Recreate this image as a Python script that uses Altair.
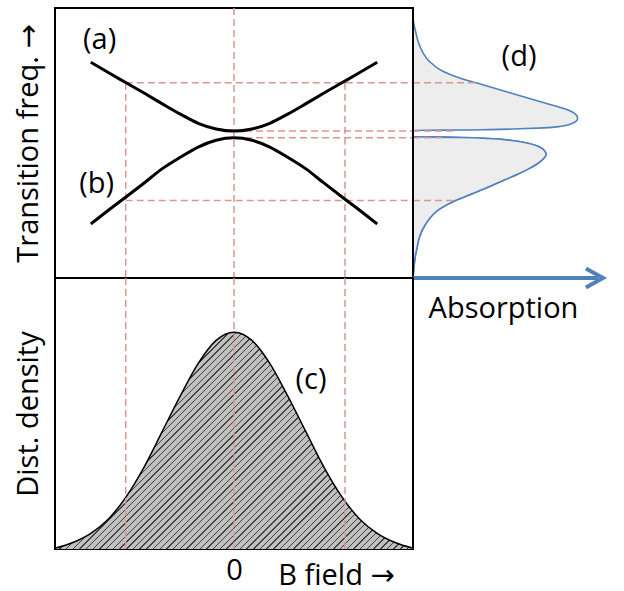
import altair as alt
import pandas as pd

# ---------------- data ----------------
# top panel: B field (-1..1) vs transition frequency (0..1)
curve_B = [-0.8, -0.7, -0.6, -0.5, -0.4, -0.3, -0.2, -0.1, 0.0,
           0.1, 0.2, 0.3, 0.4, 0.5, 0.6, 0.7, 0.8]
curve_a_f = [0.799, 0.760, 0.722, 0.684, 0.645, 0.607, 0.573, 0.552, 0.544,
             0.552, 0.573, 0.607, 0.645, 0.684, 0.722, 0.760, 0.799]
curve_b_f = [0.200, 0.252, 0.302, 0.353, 0.405, 0.447, 0.485, 0.510, 0.519,
             0.510, 0.485, 0.447, 0.405, 0.353, 0.302, 0.252, 0.200]

# guide positions (B of the marked fields, f of the marked frequencies)
guide_B = [-0.605, 0.0, 0.62]
guide_B_ftop = [0.723, 1.0, 0.723]
guide_f = [0.723, 0.544, 0.5196, 0.287]
guide_f_Bstart = [-0.605, 0.0, 0.0, -0.605]
guide_f_aend = [0.332, 0.216, 0.172, 0.216]

# bottom panel: distribution density of the B field
gauss_B = [-1.0, -0.9, -0.8, -0.7, -0.6, -0.5, -0.4, -0.3, -0.2, -0.1, 0.0,
           0.1, 0.2, 0.3, 0.4, 0.5, 0.6, 0.7, 0.8, 0.9, 1.0]
gauss_d = [0.003, 0.024, 0.058, 0.112, 0.195, 0.305, 0.435, 0.565, 0.685, 0.770, 0.800,
           0.770, 0.685, 0.565, 0.435, 0.305, 0.195, 0.112, 0.058, 0.024, 0.003]

# right panel: absorption profile vs transition frequency
upper_f = [0.5470, 0.5475, 0.5480, 0.5495, 0.5525, 0.5560, 0.5620, 0.5700, 0.5790,
           0.5880, 0.5990, 0.6100, 0.6240, 0.6490, 0.6860, 0.7230, 0.7420, 0.7670,
           0.8040, 0.8660, 0.9150, 0.9580]
upper_a = [0.000, 0.100, 0.230, 0.400, 0.560, 0.690, 0.780, 0.830, 0.856,
           0.866, 0.864, 0.850, 0.810, 0.690, 0.510, 0.332, 0.242, 0.154,
           0.084, 0.032, 0.013, 0.000]
lower_f = [0.002, 0.040, 0.080, 0.112, 0.152, 0.199, 0.254, 0.288, 0.315, 0.341,
           0.363, 0.384, 0.404, 0.426, 0.444, 0.458, 0.470, 0.487, 0.500, 0.510,
           0.5165, 0.5205, 0.5233]
lower_a = [0.000, 0.005, 0.012, 0.021, 0.034, 0.066, 0.137, 0.226, 0.321, 0.410,
           0.480, 0.550, 0.608, 0.660, 0.690, 0.700, 0.694, 0.660, 0.600, 0.510,
           0.400, 0.250, 0.000]

top_labels = ["(a)", "(b)"]
top_labels_B = [-0.751, -0.767]
top_labels_f = [0.881, 0.348]

# ---------------- styling ----------------
FONT = "Open Sans, DejaVu Sans"
FS = 29
DASH_COLOR = "#D99694"
BLUE = "#4F81BD"
W, HT, HB, WR = 358, 270, 271, 190

xB = alt.Scale(domain=[-1, 1])
yF = alt.Scale(domain=[0, 1])

ax_top_y = alt.Axis(title="Transition freq. →", labels=False, ticks=False, domain=False,
                    grid=False, titlePadding=12)
ax_bot_y = alt.Axis(title="Dist. density", labels=False, ticks=False, domain=False,
                    grid=False, titlePadding=12)
ax_bot_x = alt.Axis(values=[0], title="B field →", ticks=False, domain=False, grid=False,
                    labelFontSize=FS, labelPadding=7, titleX=281, titleY=35,
                    titleAlign="center", titleBaseline="alphabetic")
ax_right_x = alt.Axis(title="Absorption", labels=False, ticks=False, domain=False,
                      grid=False, titlePadding=16, titleX=90, titleAlign="center")

# ---------------- top panel ----------------
curves = pd.DataFrame({
    "B": curve_B * 2,
    "f": curve_a_f + curve_b_f,
    "curve": ["a"] * len(curve_B) + ["b"] * len(curve_B),
})
vguides = pd.DataFrame({"B": guide_B, "f1": guide_B_ftop, "f2": [0.0] * 3})
hguides = pd.DataFrame({"f": guide_f, "B1": guide_f_Bstart, "B2": [1.0] * 4})
tlab = pd.DataFrame({"B": top_labels_B, "f": top_labels_f, "t": top_labels})

dash = dict(color=DASH_COLOR, strokeDash=[7, 4], strokeWidth=1.5)

t_v = alt.Chart(vguides).mark_rule(**dash).encode(
    x=alt.X("B:Q", scale=xB, axis=None),
    y=alt.Y("f1:Q", scale=yF, axis=ax_top_y), y2="f2:Q")
t_h = alt.Chart(hguides).mark_rule(**dash).encode(
    x=alt.X("B1:Q", scale=xB, axis=None), x2="B2:Q",
    y=alt.Y("f:Q", scale=yF, axis=ax_top_y))
t_c = alt.Chart(curves).mark_line(color="black", strokeWidth=3, interpolate="monotone").encode(
    x=alt.X("B:Q", scale=xB, axis=None),
    y=alt.Y("f:Q", scale=yF, axis=ax_top_y),
    detail="curve:N")
t_t = alt.Chart(tlab).mark_text(font=FONT, fontSize=FS, align="center", baseline="middle",
                                color="black").encode(
    x=alt.X("B:Q", scale=xB, axis=None),
    y=alt.Y("f:Q", scale=yF, axis=ax_top_y), text="t:N")
top = alt.layer(t_v, t_h, t_c, t_t).properties(width=W, height=HT)

# ---------------- bottom panel ----------------
gauss = pd.DataFrame({"B": gauss_B, "d": gauss_d})
bvg = pd.DataFrame({"B": guide_B, "d1": [1.0] * 3, "d2": [0.0] * 3})
clab = pd.DataFrame({"B": [0.43], "d": [0.624], "t": ["(c)"]})

# diagonal hatch as a striped linear gradient
bw = float(W)
bh = HB * max(gauss_d)
s = (1 / bh + 1 / bw) / (1 / bh ** 2 + 1 / bw ** 2)
gx2, gy2 = s / bh, s / bw
period = 4.7
L = (bw + bh) / 2 ** 0.5
n = int(L / period)
frac = 1.0 / period
dark, light = "#404040", "#c0c0c0"
stops = []
for k in range(n):
    t0 = k / n
    t1 = (k + frac) / n
    t2 = (k + 1) / n
    stops += [alt.GradientStop(color=dark, offset=t0),
              alt.GradientStop(color=dark, offset=t1),
              alt.GradientStop(color=light, offset=t1),
              alt.GradientStop(color=light, offset=t2)]
hatch = alt.LinearGradient(gradient="linear", stops=stops, x1=0, y1=0, x2=gx2, y2=gy2)

b_a = alt.Chart(gauss).mark_area(fill=hatch, interpolate="monotone", opacity=1).encode(
    x=alt.X("B:Q", scale=xB, axis=ax_bot_x),
    y=alt.Y("d:Q", scale=yF, axis=ax_bot_y))
b_l = alt.Chart(gauss).mark_line(color="black", strokeWidth=1.5, interpolate="monotone").encode(
    x=alt.X("B:Q", scale=xB, axis=ax_bot_x),
    y=alt.Y("d:Q", scale=yF, axis=ax_bot_y))
b_v = alt.Chart(bvg).mark_rule(**dash).encode(
    x=alt.X("B:Q", scale=xB, axis=ax_bot_x),
    y=alt.Y("d1:Q", scale=yF, axis=ax_bot_y), y2="d2:Q")
b_t = alt.Chart(clab).mark_text(font=FONT, fontSize=FS, align="center", baseline="middle",
                                color="black").encode(
    x=alt.X("B:Q", scale=xB, axis=ax_bot_x),
    y=alt.Y("d:Q", scale=yF, axis=ax_bot_y), text="t:N")
bottom = alt.layer(b_a, b_l, b_v, b_t).properties(width=W, height=HB)

# ---------------- right panel ----------------
absorb = pd.DataFrame({
    "f": upper_f + lower_f,
    "a": upper_a + lower_a,
    "peak": ["upper"] * len(upper_f) + ["lower"] * len(lower_f),
})
rh = pd.DataFrame({"f": guide_f, "a1": [0.0] * 4, "a2": guide_f_aend})
dlab = pd.DataFrame({"a": [0.558], "f": [0.819], "t": ["(d)"]})
xA = alt.Scale(domain=[0, 1])

r_area = alt.Chart(absorb).mark_area(orient="horizontal", fill="#ededed", opacity=1,
                                     stroke=BLUE, strokeWidth=1.6,
                                     interpolate="monotone").encode(
    x=alt.X("a:Q", scale=xA, axis=ax_right_x),
    y=alt.Y("f:Q", scale=yF, axis=None),
    detail="peak:N")
r_h = alt.Chart(rh).mark_rule(**dash).encode(
    x=alt.X("a1:Q", scale=xA, axis=ax_right_x), x2="a2:Q",
    y=alt.Y("f:Q", scale=yF, axis=None))
r_edge = alt.Chart(pd.DataFrame({"a": [0.0], "f1": [0.0], "f2": [1.0]})).mark_rule(
    color="black", strokeWidth=2).encode(
    x=alt.X("a:Q", scale=xA, axis=ax_right_x),
    y=alt.Y("f1:Q", scale=yF, axis=None), y2="f2:Q")
r_shaft = alt.Chart(pd.DataFrame({"a1": [0.0], "a2": [0.975], "f": [0.0]})).mark_rule(
    color=BLUE, strokeWidth=4).encode(
    x=alt.X("a1:Q", scale=xA, axis=ax_right_x), x2="a2:Q",
    y=alt.Y("f:Q", scale=yF, axis=None))
r_head = alt.Chart(pd.DataFrame({"a": [1.0], "f": [0.0]})).mark_point(
    shape="M-1.8,-1L0,0L-1.8,1", size=361, filled=False, color=BLUE, strokeWidth=4,
    opacity=1).encode(
    x=alt.X("a:Q", scale=xA, axis=ax_right_x),
    y=alt.Y("f:Q", scale=yF, axis=None))
r_t = alt.Chart(dlab).mark_text(font=FONT, fontSize=FS, align="center", baseline="middle",
                                color="black").encode(
    x=alt.X("a:Q", scale=xA, axis=ax_right_x),
    y=alt.Y("f:Q", scale=yF, axis=None), text="t:N")
right = alt.layer(r_area, r_h, r_edge, r_shaft, r_head, r_t).properties(
    width=WR, height=HT, view=alt.ViewBackground(stroke="transparent"))

chart = alt.concat(top, right, bottom, columns=2, spacing=0, bounds="flush",
                   align="each").properties(
    padding={"left": 12, "top": 6, "right": 5, "bottom": 0},
    background="white",
).configure_view(stroke="black", strokeWidth=2).configure_axis(
    titleFont=FONT, labelFont=FONT, titleFontSize=FS, labelFontSize=FS,
    titleFontWeight="normal", titleColor="black", labelColor="black")

chart.save("out.html", embed_options={"renderer": "svg", "actions": False})
